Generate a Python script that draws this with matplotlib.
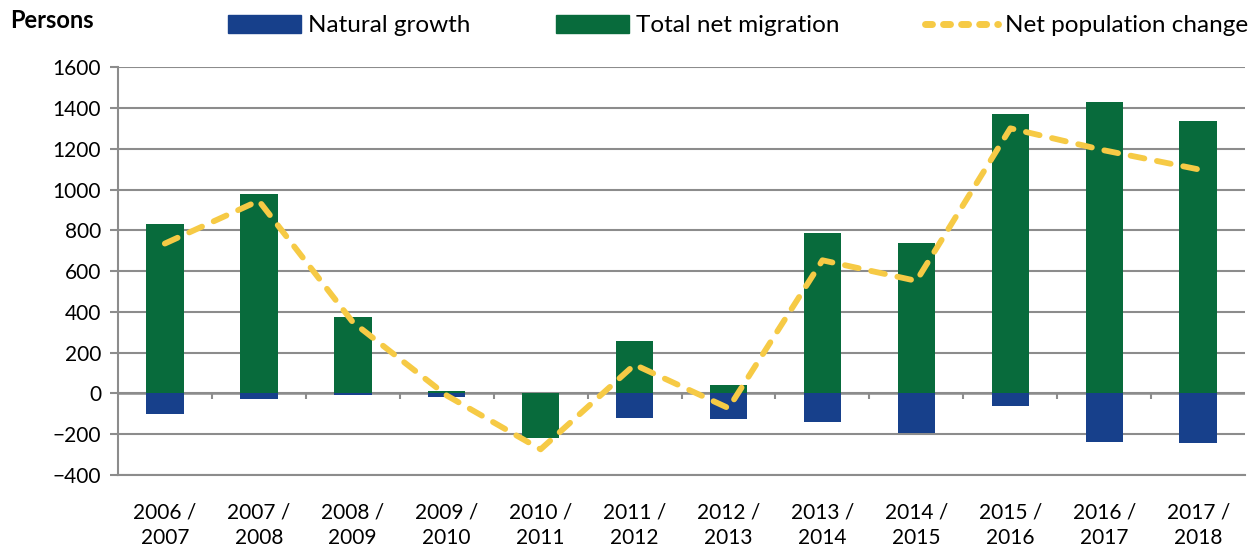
import numpy as np
import matplotlib.pyplot as plt
from matplotlib.patches import Patch
from matplotlib.lines import Line2D

plt.rcParams['font.family'] = ['Lato', 'DejaVu Sans']

periods = ["2006 /\n2007", "2007 /\n2008", "2008 /\n2009", "2009 /\n2010",
           "2010 /\n2011", "2011 /\n2012", "2012 /\n2013", "2013 /\n2014",
           "2014 /\n2015", "2015 /\n2016", "2016 /\n2017", "2017 /\n2018"]
natural_growth = [-103, -28, -8, -18, -2, -118, -123, -142, -195, -64, -239, -242]
net_migration = [832, 979, 377, 11, -220, 257, 43, 787, 740, 1369, 1428, 1338]
net_change = [735, 945, 350, -10, -274, 141, -72, 653, 552, 1300, 1192, 1099]

blue = "#17408b"
green = "#086b3c"
yellow = "#f6ca45"
grid_col = "#8c8c8c"

fig = plt.figure(figsize=(12.54, 5.46), dpi=100)
ax = fig.add_axes([0.094, 0.13, 0.899, 0.747])

x = np.arange(len(periods))
w = 0.4
ng = np.array(natural_growth)
nm = np.array(net_migration)

# stack like excel: positives up from 0, negatives down from 0
ax.bar(x, ng, w, color=blue, zorder=3)
mig_bottom = np.where(nm < 0, 0, np.maximum(ng, 0))
ax.bar(x, nm, w, bottom=mig_bottom, color=green, zorder=3)

ax.plot(x, net_change, color=yellow, lw=4.2, dashes=(2.4, 2.2),
        dash_capstyle="round", solid_capstyle="round", zorder=4)

ax.set_xlim(-0.5, len(periods) - 0.5)
ax.set_ylim(-400, 1600)
ax.set_yticks(np.arange(-400, 1601, 200))
ax.yaxis.grid(True, color=grid_col, lw=1.5, zorder=0)
ax.set_axisbelow(True)
ax.axhline(0, color=grid_col, lw=1.8, zorder=2)
ax.vlines(np.arange(0.5, len(periods) - 0.5), -28, 0, color=grid_col, lw=1.5, zorder=2)

ax.set_xticks(x)
ax.set_xticklabels(periods, fontsize=15, linespacing=1.3)
ax.tick_params(axis="x", length=0, pad=20)
ax.tick_params(axis="y", length=6, width=1.5, color=grid_col, labelsize=15, pad=6)

for s in ["top", "right"]:
    ax.spines[s].set_visible(False)
ax.spines["left"].set_color(grid_col)
ax.spines["left"].set_linewidth(1.5)
ax.spines["bottom"].set_color(grid_col)
ax.spines["bottom"].set_linewidth(1.5)

fig.text(0.008, 0.963, "Persons", fontsize=17, fontweight="bold", va="center")

handles = [Patch(color=blue), Patch(color=green),
           Line2D([], [], color=yellow, lw=5, dashes=(1.0, 1.6), dash_capstyle="round")]
fig.legend(handles, ["Natural growth", "Total net migration", "Net population change"],
           ncol=3, loc="center left", bbox_to_anchor=(0.182, 0.953), frameon=False,
           fontsize=17.5, handlelength=3.0, handleheight=0.75, handletextpad=0.3,
           columnspacing=3.5, borderaxespad=0, borderpad=0)

fig.savefig("out.png", dpi=100)
